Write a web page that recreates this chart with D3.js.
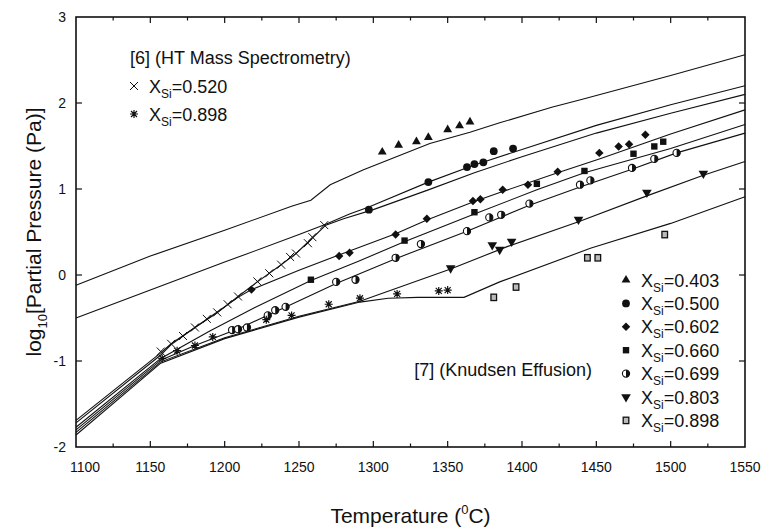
<!DOCTYPE html>
<html>
<head>
<meta charset="utf-8">
<script src="https://cdn.jsdelivr.net/npm/d3@7"></script>
<style>
    body { margin: 0; background: #fff; }
    svg text { font-family: "Liberation Sans", Arial, sans-serif; fill: #111; }
</style>
</head>
<body>
<div id="chart"></div>
<script>
const WIDTH = 764, HEIGHT = 531;
const MARGIN = { top: 17, right: 19, bottom: 84, left: 76 };

const xTicks = [1100, 1150, 1200, 1250, 1300, 1350, 1400, 1450, 1500, 1550];
const yTicks = [-2, -1, 0, 1, 2, 3];

/* model curves, [temperature, log10 p] */
const line403 = [[1100,-0.12],[1150,0.22],[1200,0.52],[1245,0.80],[1258,0.87],[1271,1.05],[1293,1.22],[1338,1.53],[1365,1.66],[1385,1.77],[1420,1.95],[1440,2.04],[1500,2.32],[1550,2.56]];
const line500 = [[1100,-0.50],[1150,-0.175],[1200,0.15],[1250,0.47],[1268,0.59],[1284,0.71],[1297,0.79],[1337,1.08],[1368,1.28],[1400,1.46],[1450,1.74],[1500,1.98],[1550,2.20]];
const line520 = [[1100,-1.69],[1157,-0.905],[1164,-0.80],[1180,-0.61],[1195,-0.44],[1209,-0.25],[1222,-0.08],[1238,0.12],[1248,0.25],[1259,0.43],[1268,0.58],[1280,0.655],[1300,0.76],[1337,0.99],[1368,1.19],[1400,1.375],[1450,1.65],[1500,1.88],[1550,2.10]];
const line602 = [[1100,-1.72],[1157,-0.93],[1164,-0.81],[1180,-0.61],[1209,-0.26],[1218,-0.17],[1250,0.055],[1284,0.28],[1315,0.48],[1336,0.64],[1367,0.85],[1387,0.97],[1424,1.19],[1452,1.35],[1500,1.64],[1550,1.92]];
const line660 = [[1100,-1.77],[1157,-0.97],[1190,-0.65],[1220,-0.38],[1258,-0.065],[1290,0.16],[1320,0.38],[1368,0.71],[1410,0.99],[1442,1.19],[1500,1.47],[1550,1.75]];
const line699 = [[1100,-1.80],[1157,-0.99],[1180,-0.82],[1210,-0.62],[1240,-0.38],[1275,-0.10],[1315,0.19],[1363,0.51],[1405,0.81],[1440,1.03],[1474,1.23],[1504,1.42],[1550,1.65]];
const line803 = [[1100,-1.83],[1157,-1.01],[1200,-0.73],[1250,-0.48],[1291,-0.305],[1352,0.07],[1390,0.33],[1438,0.62],[1484,0.92],[1522,1.16],[1550,1.32]];
const line898 = [[1100,-1.86],[1157,-1.025],[1200,-0.74],[1250,-0.49],[1291,-0.315],[1310,-0.27],[1330,-0.26],[1361,-0.26],[1385,-0.08],[1446,0.31],[1500,0.60],[1550,0.91]];

/* Knudsen effusion points [7] */
const pts403 = [[1306,1.43],[1317,1.51],[1329,1.55],[1337,1.60],[1350,1.69],[1358,1.735],[1365,1.78]];
const pts500 = [[1297,0.76],[1337,1.08],[1363,1.255],[1368,1.29],[1374,1.31],[1381,1.44],[1394,1.47]];
const pts602 = [[1218,-0.17],[1277,0.22],[1284,0.26],[1315,0.47],[1336,0.655],[1367,0.86],[1372,0.88],[1387,0.99],[1404,1.05],[1424,1.20],[1452,1.42],[1465,1.495],[1472,1.52],[1483,1.63]];
const pts660 = [[1258,-0.055],[1321,0.40],[1368,0.73],[1410,1.06],[1442,1.21],[1475,1.41],[1489,1.495],[1495,1.55]];
const pts699 = [[1205,-0.64],[1209,-0.63],[1215,-0.61],[1229,-0.47],[1234,-0.41],[1241,-0.37],[1275,-0.08],[1288,-0.055],[1315,0.20],[1332,0.36],[1363,0.51],[1378,0.67],[1386,0.70],[1405,0.83],[1439,1.05],[1446,1.10],[1474,1.245],[1489,1.35],[1504,1.42]];
const pts803 = [[1352,0.08],[1380,0.35],[1385,0.295],[1393,0.39],[1438,0.645],[1484,0.96],[1522,1.18]];
const pts898k = [[1381,-0.26],[1396,-0.14],[1444,0.20],[1451,0.20],[1496,0.47]];

/* HT mass spectrometry points [6] */
const ptsHt520 = [[1157,-0.89],[1164,-0.80],[1172,-0.71],[1180,-0.61],[1188,-0.51],[1195,-0.435],[1202,-0.34],[1209,-0.25],[1222,-0.075],[1230,0.02],[1238,0.12],[1244,0.21],[1248,0.25],[1256,0.37],[1259,0.44],[1267,0.58]];
const ptsHt898 = [[1158,-0.97],[1168,-0.88],[1180,-0.82],[1192,-0.72],[1228,-0.52],[1245,-0.47],[1270,-0.34],[1291,-0.27],[1316,-0.22],[1344,-0.185],[1350,-0.175]];

const legendHt = [['x', '0.520'], ['ast', '0.898']];
const legendKn = [['tri', '0.403'], ['circ', '0.500'], ['diam', '0.602'], ['sq', '0.660'], ['half', '0.699'], ['tridown', '0.803'], ['sqopen', '0.898']];

const svg = d3.select('#chart').append('svg')
    .attr('width', WIDTH)
    .attr('height', HEIGHT);

const x = d3.scaleLinear().domain([1100, 1550]).range([MARGIN.left, WIDTH - MARGIN.right]);
const y = d3.scaleLinear().domain([-2, 3]).range([HEIGHT - MARGIN.bottom, MARGIN.top]);

// frame and ticks
const frame = svg.append('g');
frame.append('rect')
    .attr('x', x(1100)).attr('y', y(3))
    .attr('width', x(1550) - x(1100)).attr('height', y(-2) - y(3))
    .attr('fill', 'none').attr('stroke', '#111').attr('stroke-width', 1.6);

d3.range(1125, 1550, 25).forEach(t => {
    const len = t % 50 === 0 ? 6 : 3.5;
    frame.append('line').attr('x1', x(t)).attr('x2', x(t))
        .attr('y1', y(-2)).attr('y2', y(-2) - len).attr('stroke', '#111').attr('stroke-width', 1.2);
    frame.append('line').attr('x1', x(t)).attr('x2', x(t))
        .attr('y1', y(3)).attr('y2', y(3) + len).attr('stroke', '#111').attr('stroke-width', 1.2);
});
yTicks.slice(1, -1).forEach(v => {
    frame.append('line').attr('x1', x(1100)).attr('x2', x(1100) + 6)
        .attr('y1', y(v)).attr('y2', y(v)).attr('stroke', '#111').attr('stroke-width', 1.2);
    frame.append('line').attr('x1', x(1550)).attr('x2', x(1550) - 6)
        .attr('y1', y(v)).attr('y2', y(v)).attr('stroke', '#111').attr('stroke-width', 1.2);
});

svg.append('g').selectAll('text').data(xTicks).join('text')
    .attr('x', d => d === 1100 ? x(d) + 9 : x(d))
    .attr('y', y(-2) + 25)
    .attr('text-anchor', 'middle')
    .attr('font-size', 14)
    .text(d => d);

svg.append('g').selectAll('text').data(yTicks).join('text')
    .attr('x', x(1100) - 10)
    .attr('y', d => y(d) + 5)
    .attr('text-anchor', 'end')
    .attr('font-size', 14)
    .text(d => d);

// axis titles
const xTitle = svg.append('text')
    .attr('x', (x(1100) + x(1550)) / 2)
    .attr('y', 523)
    .attr('text-anchor', 'middle')
    .attr('font-size', 21);
xTitle.append('tspan').text('Temperature (');
xTitle.append('tspan').attr('font-size', 13).attr('dy', -9).text('0');
xTitle.append('tspan').attr('dy', 9).text('C)');

const yTitle = svg.append('text')
    .attr('transform', `translate(41, ${(y(3) + y(-2)) / 2}) rotate(-90)`)
    .attr('text-anchor', 'middle')
    .attr('font-size', 21);
yTitle.append('tspan').text('log');
yTitle.append('tspan').attr('font-size', 13).attr('dy', 6).text('10');
yTitle.append('tspan').attr('dy', -6).text('[Partial Pressure (Pa)]');

// curves
const lineGen = d3.line().x(d => x(d[0])).y(d => y(d[1]));
[line403, line500, line520, line602, line660, line699, line803, line898].forEach(data => {
    svg.append('path')
        .attr('d', lineGen(data))
        .attr('fill', 'none')
        .attr('stroke', '#111')
        .attr('stroke-width', 1.1);
});

// markers
const drawMarker = (g, type, cx, cy) => {
    const m = g.append('g').attr('transform', `translate(${cx},${cy})`);
    switch (type) {
    case 'tri':
        m.append('path').attr('d', d3.symbol(d3.symbolTriangle, 34)()).attr('fill', '#111');
        break;
    case 'tridown':
        m.append('path').attr('d', d3.symbol(d3.symbolTriangle, 40)()).attr('transform', 'rotate(180)').attr('fill', '#111');
        break;
    case 'circ':
        m.append('circle').attr('r', 3.9).attr('fill', '#111');
        break;
    case 'diam':
        m.append('rect').attr('x', -3).attr('y', -3).attr('width', 6).attr('height', 6)
            .attr('transform', 'rotate(45)').attr('fill', '#111');
        break;
    case 'sq':
        m.append('rect').attr('x', -3.2).attr('y', -3.2).attr('width', 6.4).attr('height', 6.4).attr('fill', '#111');
        break;
    case 'half':
        m.append('circle').attr('r', 3.6).attr('fill', '#fff').attr('stroke', '#111').attr('stroke-width', 1.1);
        m.append('path').attr('d', 'M0,-3.6 A3.6,3.6 0 0 1 0,3.6 Z').attr('fill', '#111');
        break;
    case 'sqopen':
        m.append('rect').attr('x', -2.8).attr('y', -3.2).attr('width', 5.6).attr('height', 6.4)
            .attr('fill', '#bbb').attr('stroke', '#111').attr('stroke-width', 1.3);
        break;
    case 'x':
        m.append('path').attr('d', 'M-4,-4L4,4M-4,4L4,-4').attr('stroke', '#111').attr('stroke-width', 1);
        break;
    case 'ast':
        m.append('path').attr('d', 'M-4,0L4,0M0,-4L0,4M-3,-3L3,3M-3,3L3,-3').attr('stroke', '#111').attr('stroke-width', 1.2);
        break;
    }
};

const series = [
    ['tri', pts403], ['circ', pts500], ['diam', pts602], ['sq', pts660],
    ['half', pts699], ['tridown', pts803], ['sqopen', pts898k],
    ['x', ptsHt520], ['ast', ptsHt898]
];
const markerLayer = svg.append('g');
series.forEach(([type, data]) => {
    data.forEach(d => drawMarker(markerLayer, type, x(d[0]), y(d[1])));
});

// legends
const label = (g, tx, ty, value) => {
    const t = g.append('text').attr('x', tx).attr('y', ty).attr('font-size', 18);
    t.append('tspan').text('X');
    t.append('tspan').attr('font-size', 12).attr('dy', 5).text('Si');
    t.append('tspan').attr('dy', -5).text(`=${value}`);
};

const legendTop = svg.append('g');
legendTop.append('text').attr('x', 130).attr('y', 64).attr('font-size', 18).text('[6] (HT Mass Spectrometry)');
legendHt.forEach(([type, value], i) => {
    const cy = 86 + i * 28;
    drawMarker(legendTop, type, 134, cy);
    label(legendTop, 149, cy + 7, value);
});

const legendRight = svg.append('g');
legendRight.append('text').attr('x', 592).attr('y', 376).attr('text-anchor', 'end').attr('font-size', 18)
    .text('[7] (Knudsen Effusion)');
legendKn.forEach(([type, value], i) => {
    const cy = 280 + i * 23.4;
    drawMarker(legendRight, type, 626, cy);
    label(legendRight, 641, cy + 6.5, value);
});
</script>
</body>
</html>
